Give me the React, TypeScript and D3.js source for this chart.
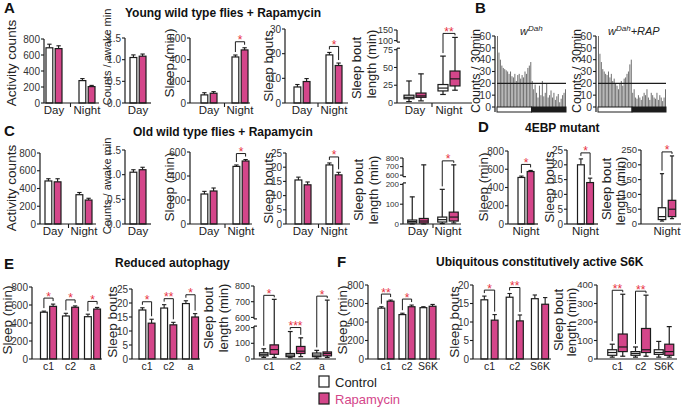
import React from 'react';
import * as d3 from 'd3';

const PINK = '#d4468a';
const STAR = '#e8313f';
const INK = '#1c1c1c';
const FONT = '"Liberation Sans", Arial, Helvetica, sans-serif';

// ---------- categories ----------
const dayNight = ['Day', 'Night'];
const dayOnly = ['Day'];
const nightOnly = ['Night'];
const autophagyLines = ['c1', 'c2', 'a'];
const s6kLines = ['c1', 'c2', 'S6K'];

// ---------- tick labels ----------
const ticks800 = [0, 200, 400, 600, 800];
const ticks600 = [0, 200, 400, 600];
const ticks15 = [0, 0.5, 1, 1.5];
const ticks30 = [0, 10, 20, 30];
const ticks25 = [0, 5, 10, 15, 20, 25];
const ticks20 = [0, 5, 10, 15, 20];
const ticks400 = [0, 100, 200, 300, 400];
const ticks250 = [0, 50, 100, 150, 200, 250];
const ticks60 = [0, 10, 20, 30, 40, 50, 60];
const ticksBoutYoung = [0, 25, 50, 75, 100, 150];
const ticksBoutBroken = [0, 100, 200, 600, 700, 800];

// ---------- A: young wild type flies ----------
const aActivityCtrl = [690, 280];
const aActivityCtrlErr = [45, 25];
const aActivityRapa = [680, 205];
const aActivityRapaErr = [35, 15];
const aCountsCtrl = [1.05];
const aCountsCtrlErr = [0.06];
const aCountsRapa = [1.08];
const aCountsRapaErr = [0.05];
const aSleepCtrl = [75, 425];
const aSleepCtrlErr = [20, 18];
const aSleepRapa = [90, 490];
const aSleepRapaErr = [15, 20];
const aSleepSig = ['', '*'];
const aBoutsCtrl = [6.5, 19.5];
const aBoutsCtrlErr = [1, 1];
const aBoutsRapa = [8.7, 15.2];
const aBoutsRapaErr = [1.2, 1];
const aBoutsSig = ['', '*'];
// [min, q1, median, q3, max]
const aLengthCtrl = [[2, 6, 8, 11, 31], [12, 17, 21, 26, 66]];
const aLengthRapa = [[3, 8, 10, 14, 41], [18, 24, 34, 45, 115]];
const aLengthSig = ['', '**'];

// ---------- B: activity profiles (counts / 30 min) ----------
const histWDah = [60, 46, 40, 35, 33, 32, 31, 30, 28, 30, 26, 25, 28, 22, 27, 28, 24, 27, 25, 30, 28, 33, 35, 38,
  22, 15, 19, 12, 8, 18, 10, 22, 9, 12, 20, 8, 10, 14, 8, 12, 6, 9, 11, 4, 7, 10, 12, 15];
const histWDahRap = [60, 45, 38, 32, 30, 28, 27, 30, 25, 28, 22, 24, 20, 18, 15, 20, 22, 18, 24, 25, 28, 30, 36, 40,
  12, 15, 8, 7, 10, 8, 6, 9, 12, 10, 15, 8, 6, 12, 10, 8, 7, 12, 6, 10, 8, 5, 8, 15];
const histThreshold = 20;
const lightBins = 24;

// ---------- C: old wild type flies ----------
const cActivityCtrl = [485, 330];
const cActivityCtrlErr = [25, 25];
const cActivityRapa = [475, 270];
const cActivityRapaErr = [35, 20];
const cCountsCtrl = [1.05];
const cCountsCtrlErr = [0.05];
const cCountsRapa = [1.1];
const cCountsRapaErr = [0.05];
const cSleepCtrl = [250, 480];
const cSleepCtrlErr = [22, 12];
const cSleepRapa = [275, 525];
const cSleepRapaErr = [25, 12];
const cSleepSig = ['', '*'];
const cBoutsCtrl = [15.5, 20.8];
const cBoutsCtrlErr = [1, 0.7];
const cBoutsRapa = [13.8, 17.3];
const cBoutsRapaErr = [1, 0.9];
const cBoutsSig = ['', '*'];
const cLengthCtrl = [[0, 5, 12, 20, 137], [2, 10, 22, 35, 175]];
const cLengthRapa = [[0, 5, 15, 28, 720], [5, 15, 35, 60, 720]];
const cLengthSig = ['', '*'];

// ---------- D: 4EBP mutant ----------
const dSleepCtrl = [510];
const dSleepCtrlErr = [15];
const dSleepRapa = [575];
const dSleepRapaErr = [12];
const dBoutsCtrl = [20];
const dBoutsCtrlErr = [2];
const dBoutsRapa = [14];
const dBoutsRapaErr = [1.5];
const dLengthCtrl = [[10, 15, 25, 55, 170]];
const dLengthRapa = [[18, 25, 50, 80, 230]];
const dSig = ['*'];

// ---------- E: reduced autophagy ----------
const eSleepCtrl = [520, 478, 470];
const eSleepCtrlErr = [12, 30, 28];
const eSleepRapa = [585, 575, 555];
const eSleepRapaErr = [25, 15, 18];
const eSleepSig = ['*', '*', '*'];
const eBoutsCtrl = [17.5, 18.2, 19.8];
const eBoutsCtrlErr = [0.8, 1.2, 1];
const eBoutsRapa = [12.8, 12.2, 15];
const eBoutsRapaErr = [1.4, 0.9, 1.2];
const eBoutsSig = ['*', '**', '*'];
const eLengthCtrl = [[10, 20, 30, 40, 65], [8, 15, 25, 35, 175], [5, 15, 25, 38, 55]];
const eLengthRapa = [[10, 30, 60, 90, 715], [15, 35, 50, 80, 135], [10, 20, 35, 45, 710]];
const eLengthSig = ['*', '***', '*'];

// ---------- F: constitutively active S6K ----------
const fSleepCtrl = [550, 480, 555];
const fSleepCtrlErr = [15, 15, 10];
const fSleepRapa = [625, 565, 570];
const fSleepRapaErr = [12, 18, 20];
const fSleepSig = ['**', '*', ''];
const fBoutsCtrl = [16, 16.7, 16.3];
const fBoutsCtrlErr = [1, 1, 1];
const fBoutsRapa = [10.5, 10.3, 14.8];
const fBoutsRapaErr = [1.5, 1.6, 1.8];
const fBoutsSig = ['*', '**', ''];
const fLengthCtrl = [[10, 20, 35, 50, 80], [10, 20, 30, 40, 65], [10, 25, 35, 50, 95]];
const fLengthRapa = [[15, 40, 65, 135, 350], [15, 35, 50, 165, 345], [10, 20, 40, 80, 175]];
const fLengthSig = ['**', '**', ''];

type Frame = { left: number; right: number; top: number; bottom: number; xr: [number, number] };

function makeY(domain: number[], fr: number[], f: Frame) {
  return d3.scaleLinear().domain(domain).range(fr.map((v) => f.bottom - v * (f.bottom - f.top)));
}

function YAxis({ y, ticks, f, fmt, brk, tickSize = 10 }: any) {
  const segs: [number, number][] = brk
    ? [[f.bottom, y(brk[0]) - 1.5], [y(brk[1]) + 1.5, f.top]]
    : [[f.bottom, f.top]];
  return (
    <g>
      {segs.map((s, i) => (
        <line key={i} x1={f.left} x2={f.left} y1={s[0]} y2={s[1]} stroke={INK} strokeWidth={1.2} />
      ))}
      {brk &&
        [segs[0][1], segs[1][0]].map((yy, i) => (
          <line key={'b' + i} x1={f.left} x2={f.left + 3} y1={yy} y2={yy} stroke={INK} strokeWidth={1.2} />
        ))}
      {ticks.map((t: number) => (
        <g key={t}>
          <line x1={f.left - 3} x2={f.left} y1={y(t)} y2={y(t)} stroke={INK} strokeWidth={1.1} />
          <text x={f.left - 4} y={y(t)} dy="0.35em" textAnchor="end" fontSize={tickSize} fill="#333">
            {fmt ? fmt(t) : t}
          </text>
        </g>
      ))}
    </g>
  );
}

function XAxis({ x, groups, f, catSize, dividers }: any) {
  return (
    <g>
      <line x1={f.left} x2={f.right} y1={f.bottom} y2={f.bottom} stroke={INK} strokeWidth={1.2} />
      {groups.map((g: string) => (
        <text key={g} x={x(g)} y={f.bottom + 11} textAnchor="middle" fontSize={catSize} fill="#222">
          {g}
        </text>
      ))}
      {dividers &&
        groups.slice(1).map((g: string, i: number) => {
          const mx = (x(groups[i]) + x(g)) / 2;
          return <line key={'d' + g} x1={mx} x2={mx} y1={f.bottom} y2={f.bottom + 4} stroke={INK} strokeWidth={1.1} />;
        })}
    </g>
  );
}

function Bracket({ x1, x2, y1, y2, label, off }: any) {
  const by = Math.min(y1, y2) - off;
  const l1 = Math.max(by + 2, y1 - 3);
  const l2 = Math.max(by + 2, y2 - 3);
  return (
    <g>
      <path d={`M${x1},${l1}V${by}H${x2}V${l2}`} fill="none" stroke={INK} strokeWidth={1} />
      <text x={(x1 + x2) / 2} y={by + 2.5} textAnchor="middle" fill={STAR} fontSize={12}>
        {label}
      </text>
    </g>
  );
}

function BarPanel({ f, domain, ticks, fmt, groups, ctrl, ctrlErr, rapa, rapaErr, stars, barW = 6.8, gap = 2.4, catSize = 11.5, dividers, tickSize }: any) {
  const y = makeY(domain, [0, 1], f);
  const x = d3.scalePoint<string>().domain(groups).range(f.xr).padding(0);
  return (
    <g>
      {groups.map((g: string, i: number) => {
        const cx = x(g)!;
        const xc = cx - gap / 2 - barW / 2;
        const xr = cx + gap / 2 + barW / 2;
        const series = [
          { c: xc, v: ctrl[i], e: ctrlErr[i], fill: '#fff' },
          { c: xr, v: rapa[i], e: rapaErr[i], fill: PINK },
        ];
        return (
          <g key={g}>
            {series.map((s, k) => (
              <g key={k}>
                <line x1={s.c} x2={s.c} y1={y(s.v)} y2={y(s.v + s.e)} stroke={INK} strokeWidth={1.1} />
                <line x1={s.c - barW * 0.32} x2={s.c + barW * 0.32} y1={y(s.v + s.e)} y2={y(s.v + s.e)} stroke={INK} strokeWidth={1.1} />
                <rect x={s.c - barW / 2} y={y(s.v)} width={barW} height={f.bottom - y(s.v)} fill={s.fill} stroke={INK} strokeWidth={1.2} />
              </g>
            ))}
            {stars && stars[i] && (
              <Bracket x1={xc} x2={xr} y1={y(ctrl[i] + ctrlErr[i])} y2={y(rapa[i] + rapaErr[i])} label={stars[i]} off={6} />
            )}
          </g>
        );
      })}
      <YAxis y={y} ticks={ticks} f={f} fmt={fmt} tickSize={tickSize} />
      <XAxis x={x} groups={groups} f={f} catSize={catSize} dividers={dividers} />
    </g>
  );
}

function BoxPanel({ f, domain, fr, brk, ticks, groups, ctrl, rapa, stars, boxW = 9, gap = 2, catSize = 11.5, dividers, tickSize }: any) {
  const y = makeY(domain, fr || [0, 1], f);
  const x = d3.scalePoint<string>().domain(groups).range(f.xr).padding(0);
  const drawBox = (c: number, d: number[], fill: string, key: string) => (
    <g key={key}>
      <line x1={c} x2={c} y1={y(d[0])} y2={y(d[4])} stroke={INK} strokeWidth={1.2} />
      <line x1={c - boxW * 0.28} x2={c + boxW * 0.28} y1={y(d[4])} y2={y(d[4])} stroke={INK} strokeWidth={1.2} />
      <line x1={c - boxW * 0.28} x2={c + boxW * 0.28} y1={y(d[0])} y2={y(d[0])} stroke={INK} strokeWidth={1.2} />
      <rect x={c - boxW / 2} y={y(d[3])} width={boxW} height={Math.max(1, y(d[1]) - y(d[3]))} fill={fill} stroke={INK} strokeWidth={1.2} />
      <line x1={c - boxW / 2} x2={c + boxW / 2} y1={y(d[2])} y2={y(d[2])} stroke={INK} strokeWidth={1.2} />
    </g>
  );
  return (
    <g>
      {groups.map((g: string, i: number) => {
        const cx = x(g)!;
        const xc = cx - gap / 2 - boxW / 2;
        const xr = cx + gap / 2 + boxW / 2;
        return (
          <g key={g}>
            {drawBox(xc, ctrl[i], '#fff', 'c')}
            {drawBox(xr, rapa[i], PINK, 'r')}
            {stars && stars[i] && (
              <Bracket x1={xc} x2={xr} y1={y(ctrl[i][4])} y2={y(rapa[i][4])} label={stars[i]} off={4} />
            )}
          </g>
        );
      })}
      <YAxis y={y} ticks={ticks} f={f} brk={brk} tickSize={tickSize} />
      <XAxis x={x} groups={groups} f={f} catSize={catSize} dividers={dividers} />
    </g>
  );
}

function Histo({ left, right, top, bottom, values, title }: any) {
  const y = d3.scaleLinear().domain([0, 60]).range([bottom, top]);
  const x = d3.scaleBand<number>().domain(d3.range(values.length)).range([left + 2, right]).paddingInner(0.3);
  const lightEnd = x(lightBins)! - x.step() * 0.15;
  return (
    <g>
      {values.map((v: number, i: number) => (
        <rect key={i} x={x(i)} y={y(v)} width={x.bandwidth()} height={bottom - y(v)} fill="#707070" />
      ))}
      <line x1={left + 2} x2={right} y1={y(histThreshold)} y2={y(histThreshold)} stroke={INK} strokeWidth={1.3} />
      <rect x={left + 2} y={bottom} width={lightEnd - left - 2} height={5} fill="#fff" stroke={INK} strokeWidth={1} />
      <rect x={lightEnd} y={bottom} width={right - lightEnd} height={5} fill={INK} stroke={INK} strokeWidth={1} />
      <line x1={left} x2={left} y1={bottom + 5} y2={top} stroke={INK} strokeWidth={1.2} />
      {ticks60.map((t) => (
        <g key={t}>
          <line x1={left - 3} x2={left} y1={y(t)} y2={y(t)} stroke={INK} strokeWidth={1.1} />
          <text x={left - 4} y={y(t)} dy="0.35em" textAnchor="end" fontSize={10.5} fill="#333">{t}</text>
        </g>
      ))}
      {title}
    </g>
  );
}

function YLabel({ x, cy, text, size = 13.5 }: any) {
  return (
    <text transform={`translate(${x},${cy}) rotate(-90)`} textAnchor="middle" dy="0.35em" fontSize={size} fill="#222">
      {text}
    </text>
  );
}

function Letter({ x, y, t }: any) {
  return <text x={x} y={y} fontSize={15} fontWeight="bold" fill="#111">{t}</text>;
}

function Title({ x, y, t }: any) {
  return <text x={x} y={y} fontSize={12} fontWeight="bold" fill="#111">{t}</text>;
}

const f1 = d3.format('.1f');

export default function App() {
  return (
    <svg width={683} height={411} viewBox="0 0 683 411" style={{ position: 'absolute', left: 0, top: 0 }} fontFamily={FONT}>
      <rect width={683} height={411} fill="#fff" />

      {/* ---------- A ---------- */}
      <Letter x={4} y={13} t="A" />
      <Title x={125} y={17} t="Young wild type flies + Rapamycin" />
      <YLabel x={11} cy={63} text="Activity counts" />
      <BarPanel f={{ left: 44, right: 99, top: 39, bottom: 103, xr: [54, 87] }} domain={[0, 800]} ticks={ticks800}
        groups={dayNight} ctrl={aActivityCtrl} ctrlErr={aActivityCtrlErr} rapa={aActivityRapa} rapaErr={aActivityRapaErr} dividers />
      <YLabel x={107} cy={57} text="Counts / awake min" size={11} />
      <BarPanel f={{ left: 125, right: 151, top: 38, bottom: 103, xr: [138, 138] }} domain={[0, 1.5]} ticks={ticks15} fmt={f1}
        groups={dayOnly} ctrl={aCountsCtrl} ctrlErr={aCountsCtrlErr} rapa={aCountsRapa} rapaErr={aCountsRapaErr} />
      <YLabel x={169} cy={63} text="Sleep (min)" />
      <BarPanel f={{ left: 190, right: 250, top: 38, bottom: 103, xr: [209, 240] }} domain={[0, 600]} ticks={ticks600}
        groups={dayNight} ctrl={aSleepCtrl} ctrlErr={aSleepCtrlErr} rapa={aSleepRapa} rapaErr={aSleepRapaErr} stars={aSleepSig} dividers />
      <YLabel x={268} cy={66} text="Sleep bouts" />
      <BarPanel f={{ left: 285, right: 348, top: 29, bottom: 103, xr: [302, 334] }} domain={[0, 30]} ticks={ticks30}
        groups={dayNight} ctrl={aBoutsCtrl} ctrlErr={aBoutsCtrlErr} rapa={aBoutsRapa} rapaErr={aBoutsRapaErr} stars={aBoutsSig} dividers />
      <YLabel x={356} cy={68} text="Sleep bout" size={13} />
      <YLabel x={371} cy={64} text="length (min)" size={13} />
      <BoxPanel f={{ left: 397, right: 472, top: 30, bottom: 103, xr: [415, 449] }} domain={[0, 75, 100, 150]} fr={[0, 0.73, 0.855, 1]}
        brk={[75, 100]} ticks={ticksBoutYoung} groups={dayNight} ctrl={aLengthCtrl} rapa={aLengthRapa} stars={aLengthSig} boxW={10} dividers tickSize={9} />

      {/* ---------- B ---------- */}
      <Letter x={475} y={13} t="B" />
      <YLabel x={476} cy={71} text="Counts / 30min" size={12.5} />
      <Histo left={495} right={566} top={36} bottom={107} values={histWDah}
        title={<text x={520} y={35} fontSize={11} fontStyle="italic" fill="#222">w<tspan dy={-4} fontSize={8}>Dah</tspan></text>} />
      <YLabel x={577} cy={71} text="Counts / 30min" size={12.5} />
      <Histo left={596} right={666} top={36} bottom={107} values={histWDahRap}
        title={<text x={608} y={35} fontSize={11} fontStyle="italic" fill="#222">w<tspan dy={-4} fontSize={8}>Dah</tspan><tspan dy={4}>+RAP</tspan></text>} />

      {/* ---------- C ---------- */}
      <Letter x={4} y={136} t="C" />
      <Title x={133} y={136} t="Old wild type flies + Rapamycin" />
      <YLabel x={11} cy={188} text="Activity counts" />
      <BarPanel f={{ left: 40, right: 96, top: 153, bottom: 224, xr: [53, 84] }} domain={[0, 800]} ticks={ticks800}
        groups={dayNight} ctrl={cActivityCtrl} ctrlErr={cActivityCtrlErr} rapa={cActivityRapa} rapaErr={cActivityRapaErr} dividers />
      <YLabel x={107} cy={186} text="Counts / awake min" size={11} />
      <BarPanel f={{ left: 125, right: 151, top: 150, bottom: 224, xr: [138, 138] }} domain={[0, 1.5]} ticks={ticks15} fmt={f1}
        groups={dayOnly} ctrl={cCountsCtrl} ctrlErr={cCountsCtrlErr} rapa={cCountsRapa} rapaErr={cCountsRapaErr} />
      <YLabel x={169} cy={187} text="Sleep (min)" />
      <BarPanel f={{ left: 190, right: 252, top: 152, bottom: 224, xr: [209, 241] }} domain={[0, 600]} ticks={ticks600}
        groups={dayNight} ctrl={cSleepCtrl} ctrlErr={cSleepCtrlErr} rapa={cSleepRapa} rapaErr={cSleepRapaErr} stars={cSleepSig} dividers />
      <YLabel x={268} cy={188} text="Sleep bouts" />
      <BarPanel f={{ left: 286, right: 350, top: 153, bottom: 224, xr: [303, 334] }} domain={[0, 25]} ticks={ticks25}
        groups={dayNight} ctrl={cBoutsCtrl} ctrlErr={cBoutsCtrlErr} rapa={cBoutsRapa} rapaErr={cBoutsRapaErr} stars={cBoutsSig} dividers />
      <YLabel x={358} cy={190} text="Sleep bout" size={13} />
      <YLabel x={373} cy={190} text="length (min)" size={13} />
      <BoxPanel f={{ left: 403, right: 461, top: 158, bottom: 224, xr: [418, 448] }} domain={[0, 200, 600, 800]} fr={[0, 0.6, 0.74, 1]}
        brk={[200, 600]} ticks={ticksBoutBroken} groups={dayNight} ctrl={cLengthCtrl} rapa={cLengthRapa} stars={cLengthSig} boxW={9} gap={2.5} dividers tickSize={8} />

      {/* ---------- D ---------- */}
      <Letter x={478} y={132} t="D" />
      <Title x={525} y={132} t="4EBP mutant" />
      <YLabel x={483} cy={187} text="Sleep (min)" />
      <BarPanel f={{ left: 508, right: 538, top: 151, bottom: 224, xr: [526, 526] }} domain={[0, 800]} ticks={ticks800}
        groups={nightOnly} ctrl={dSleepCtrl} ctrlErr={dSleepCtrlErr} rapa={dSleepRapa} rapaErr={dSleepRapaErr} stars={dSig} />
      <YLabel x={549} cy={187} text="Sleep bouts" />
      <BarPanel f={{ left: 567, right: 598, top: 150, bottom: 224, xr: [585.5, 585.5] }} domain={[0, 25]} ticks={ticks25}
        groups={nightOnly} ctrl={dBoutsCtrl} ctrlErr={dBoutsCtrlErr} rapa={dBoutsRapa} rapaErr={dBoutsRapaErr} stars={dSig} />
      <YLabel x={606} cy={189} text="Sleep bout" size={13} />
      <YLabel x={620} cy={191} text="length (min)" size={13} />
      <BoxPanel f={{ left: 641, right: 681, top: 150, bottom: 224, xr: [667, 667] }} domain={[0, 250]} ticks={ticks250}
        groups={nightOnly} ctrl={dLengthCtrl} rapa={dLengthRapa} stars={dSig} boxW={7.5} gap={2.5} tickSize={9.5} />

      {/* ---------- E ---------- */}
      <Letter x={4} y={269} t="E" />
      <Title x={115} y={267} t="Reduced autophagy" />
      <YLabel x={7} cy={320} text="Sleep (min)" />
      <BarPanel f={{ left: 32, right: 102, top: 287, bottom: 359, xr: [48.5, 92.5] }} domain={[0, 800]} ticks={ticks800}
        groups={autophagyLines} ctrl={eSleepCtrl} ctrlErr={eSleepCtrlErr} rapa={eSleepRapa} rapaErr={eSleepRapaErr} stars={eSleepSig} catSize={10.5} />
      <YLabel x={112} cy={322} text="Sleep bouts" />
      <BarPanel f={{ left: 132, right: 200, top: 289, bottom: 359, xr: [147, 190.5] }} domain={[0, 25]} ticks={ticks25}
        groups={autophagyLines} ctrl={eBoutsCtrl} ctrlErr={eBoutsCtrlErr} rapa={eBoutsRapa} rapaErr={eBoutsRapaErr} stars={eBoutsSig} catSize={10.5} />
      <YLabel x={208} cy={318} text="Sleep bout" size={13} />
      <YLabel x={223} cy={318} text="length (min)" size={13} />
      <BoxPanel f={{ left: 254, right: 336, top: 286, bottom: 359, xr: [269, 322] }} domain={[0, 200, 600, 800]} fr={[0, 0.43, 0.57, 1]}
        brk={[200, 600]} ticks={ticksBoutBroken} groups={autophagyLines} ctrl={eLengthCtrl} rapa={eLengthRapa} stars={eLengthSig} boxW={8.5} gap={2} catSize={10.5} tickSize={9} />

      {/* ---------- F ---------- */}
      <Letter x={337} y={267} t="F" />
      <Title x={436} y={266} t="Ubiquitous constitutively active S6K" />
      <YLabel x={342} cy={320} text="Sleep (min)" />
      <BarPanel f={{ left: 368, right: 440, top: 285, bottom: 359, xr: [386, 428] }} domain={[0, 800]} ticks={ticks800}
        groups={s6kLines} ctrl={fSleepCtrl} ctrlErr={fSleepCtrlErr} rapa={fSleepRapa} rapaErr={fSleepRapaErr} stars={fSleepSig} catSize={10.5} />
      <YLabel x={454} cy={322} text="Sleep bouts" />
      <BarPanel f={{ left: 473, right: 551, top: 285, bottom: 359, xr: [489.5, 540] }} domain={[0, 20]} ticks={ticks20}
        groups={s6kLines} ctrl={fBoutsCtrl} ctrlErr={fBoutsCtrlErr} rapa={fBoutsRapa} rapaErr={fBoutsRapaErr} stars={fBoutsSig} gap={3.5} catSize={10.5} />
      <YLabel x={558} cy={320} text="Sleep bout" size={13} />
      <YLabel x={571} cy={322} text="length (min)" size={13} />
      <BoxPanel f={{ left: 597, right: 677, top: 285, bottom: 359, xr: [617.5, 664] }} domain={[0, 400]} ticks={ticks400}
        groups={s6kLines} ctrl={fLengthCtrl} rapa={fLengthRapa} stars={fLengthSig} boxW={9} gap={1.5} catSize={10.5} tickSize={9.5} />

      {/* ---------- legend ---------- */}
      <rect x={319} y={376} width={10} height={11} fill="#fff" stroke={INK} strokeWidth={1.2} />
      <text x={335} y={387} fontSize={13} fill="#222">Control</text>
      <rect x={319} y={393} width={10} height={11} fill={PINK} stroke={INK} strokeWidth={1.2} />
      <text x={335} y={404} fontSize={13} fill={PINK}>Rapamycin</text>
    </svg>
  );
}
